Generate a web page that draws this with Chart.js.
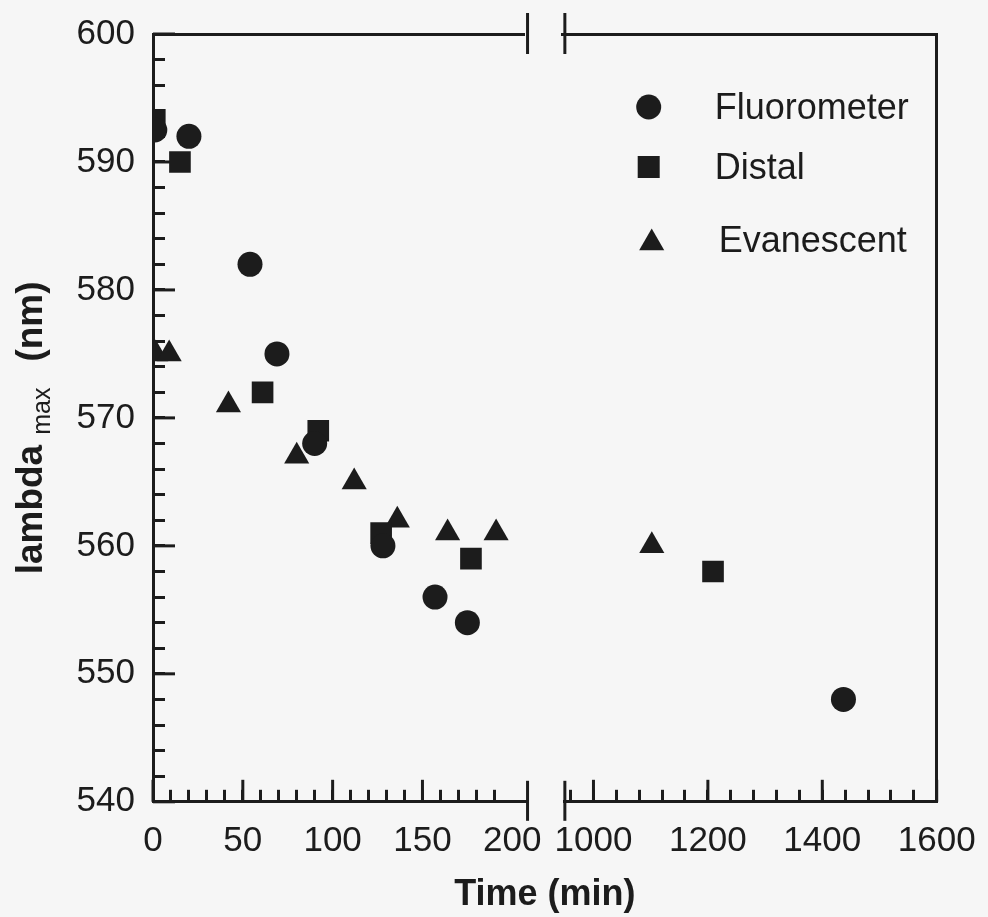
<!DOCTYPE html>
<html>
<head>
<meta charset="utf-8">
<script src="https://cdn.jsdelivr.net/npm/chart.js@4.4.0/dist/chart.umd.min.js"></script>
<style>
  html, body { margin: 0; padding: 0; background: #f6f6f6; }
  #wrap { width: 988px; height: 917px; }
</style>
</head>
<body>
<div id="wrap"><canvas id="chart" width="988" height="917"></canvas></div>
<script>
// lambda max (nm) against time (min)
const fluoroTime   = [1, 20, 54, 69, 90, 128, 157, 175, 1437];
const fluoroLambda = [592.5, 592, 582, 575, 568, 560, 556, 554, 548];
const distalTime   = [1, 15, 61, 92, 127, 177, 1209];
const distalLambda = [593.3, 590, 572, 569, 561, 559, 558];
const evanTime     = [1.5, 9, 42, 80, 112, 136, 164, 191, 1102];
const evanLambda   = [575, 575, 571, 567, 565, 562, 561, 561, 560];

const seriesNames = ['Fluorometer', 'Distal', 'Evanescent'];
const xLabelsLeft = [0, 50, 100, 150, 200];
const xLabelsRight = [1000, 1200, 1400, 1600];
const yLabels = [540, 550, 560, 570, 580, 590, 600];
const noTickAt = [200];   // label only, no tick mark (too close to the break)

const BREAK_AT = 500;     // times above this go on the right-hand segment

const ink = '#1c1c1c';
const fam = "'Liberation Sans', Arial, sans-serif";
Chart.defaults.font.family = fam;

const markers = [
  { pointStyle: 'circle', radius: 12.5 },
  { pointStyle: 'rect', radius: 15.3 },
  { pointStyle: 'triangle', radius: 14.5 }
];
const series = [[fluoroTime, fluoroLambda], [distalTime, distalLambda], [evanTime, evanLambda]];

// one dataset per series and per axis segment
const datasets = [];
series.forEach(([t, l], i) => {
  const pts = t.map((v, j) => ({ x: v, y: l[j] }));
  [['xL', p => p.x < BREAK_AT], ['xR', p => p.x >= BREAK_AT]].forEach(([axis, keep]) => {
    datasets.push({
      label: seriesNames[i],
      data: pts.filter(keep),
      xAxisID: axis,
      yAxisID: 'y',
      showLine: false,
      pointStyle: markers[i].pointStyle,
      pointRadius: markers[i].radius,
      pointHoverRadius: markers[i].radius,
      pointBackgroundColor: ink,
      pointBorderColor: ink,
      pointBorderWidth: 0
    });
  });
});

const tickFont = { family: fam, size: 35 };
const axisLine = { display: true, color: ink, width: 3 };

const tickGrid = (extra) => Object.assign({
  drawOnChartArea: false,
  drawTicks: true,
  tickLength: -12,
  tickWidth: 3,
  tickColor: ink
}, extra || {});

// labels hanging over the ends must not push the plot area in
const noOverhang = s => { s.paddingTop = 0; s.paddingBottom = 0; s.paddingLeft = 0; s.paddingRight = 0; };

const blankAxis = (pos, stack, weight, border) => ({
  type: 'linear', position: pos, stack: stack, stackWeight: weight, min: 0, max: 1,
  border: border ? axisLine : { display: false },
  grid: { display: false, drawTicks: false },
  ticks: { display: false },
  afterFit: s => {
    if (s.isHorizontal()) { s.height = pos === 'bottom' ? 60 : 0; } else { s.width = 0; }
    noOverhang(s);
  }
});

// break marks + long major ticks, drawn under the markers
const axisExtras = {
  id: 'axisExtras',
  beforeDatasetsDraw(chart) {
    const { ctx, chartArea: a, scales } = chart;
    ctx.save();
    ctx.strokeStyle = ink;
    ctx.lineWidth = 3;
    const line = (x1, y1, x2, y2) => { ctx.beginPath(); ctx.moveTo(x1, y1); ctx.lineTo(x2, y2); ctx.stroke(); };
    [scales.xL.right, scales.xR.left].forEach(x => {
      line(x, a.top - 21, x, a.top + 20);
      line(x, a.bottom - 21, x, a.bottom + 19);
    });
    yLabels.forEach(v => { const y = scales.y.getPixelForValue(v); line(a.left, y, a.left + 22, y); });
    xLabelsLeft.filter(v => !noTickAt.includes(v)).forEach(v => {
      const x = scales.xL.getPixelForValue(v); line(x, a.bottom, x, a.bottom - 22);
    });
    xLabelsRight.forEach(v => { const x = scales.xR.getPixelForValue(v); line(x, a.bottom, x, a.bottom - 22); });
    ctx.restore();
  }
};

// y title with the "max" subscript
const yTitle = {
  id: 'yTitle',
  afterDraw(chart) {
    const { ctx, chartArea: a } = chart;
    const big = `bold 37px ${fam}`, small = `25px ${fam}`;
    ctx.save();
    ctx.fillStyle = ink;
    ctx.textBaseline = 'alphabetic';
    ctx.font = big;
    const w1 = ctx.measureText('lambda').width, w3 = ctx.measureText('(nm)').width;
    ctx.font = small;
    const w2 = ctx.measureText('max').width;
    const g1 = 10, g2 = 26;
    const total = w1 + g1 + w2 + g2 + w3;
    ctx.translate(42, (a.top + a.bottom) / 2 + total / 2 + 10);
    ctx.rotate(-Math.PI / 2);
    ctx.font = big;
    ctx.fillText('lambda', 0, 0);
    ctx.font = small;
    ctx.fillText('max', w1 + g1, 8);
    ctx.font = big;
    ctx.fillText('(nm)', w1 + g1 + w2 + g2, 0);
    ctx.restore();
  }
};

// legend inside the plot, top right
const innerLegend = {
  id: 'innerLegend',
  afterDraw(chart) {
    const { ctx, chartArea: a } = chart;
    const mx = a.right - 288, tx = a.right - 222;
    const rows = [a.top + 73, a.top + 133, a.top + 206];
    ctx.save();
    ctx.fillStyle = ink;
    ctx.font = `36px ${fam}`;
    ctx.textBaseline = 'middle';
    seriesNames.forEach((name, i) => {
      const y = rows[i];
      const m = markers[i];
      ctx.beginPath();
      if (m.pointStyle === 'circle') {
        ctx.arc(mx, y, 12.5, 0, Math.PI * 2);
      } else if (m.pointStyle === 'rect') {
        ctx.rect(mx - 11, y - 11, 22, 22);
      } else {
        const r = m.radius;
        ctx.moveTo(mx + 3, y - r + 3);
        ctx.lineTo(mx + 3 + r * 0.866, y + r / 2 + 3);
        ctx.lineTo(mx + 3 - r * 0.866, y + r / 2 + 3);
        ctx.closePath();
      }
      ctx.fill();
      ctx.fillText(name, tx + (i === 2 ? 4 : 0), y + 2);
    });
    ctx.restore();
  }
};

new Chart(document.getElementById('chart'), {
  type: 'scatter',
  data: { datasets },
  plugins: [axisExtras, yTitle, innerLegend],
  options: {
    responsive: false,
    animation: false,
    events: [],
    layout: { padding: { top: 34, right: 51.3, bottom: 0, left: 0 } },
    plugins: {
      legend: { display: false },
      tooltip: { enabled: false },
      title: {
        display: true,
        text: 'Time (min)',
        position: 'bottom',
        fullSize: false,
        color: ink,
        font: { family: fam, size: 36, weight: 'bold' },
        padding: { top: 12, bottom: 0 }
      }
    },
    scales: {
      xL: {
        type: 'linear', position: 'bottom', stack: 'bottom', stackWeight: 374.4,
        min: 0, max: 208.5,
        border: axisLine,
        grid: tickGrid({ tickColor: c => (c.tick && noTickAt.includes(c.tick.value)) ? 'rgba(0,0,0,0)' : ink }),
        ticks: {
          stepSize: 10, includeBounds: false, autoSkip: false, maxRotation: 0,
          padding: 31, color: ink, font: tickFont,
          callback: v => xLabelsLeft.includes(v) ? String(v) : ''
        },
        afterFit: s => { s.height = 60; noOverhang(s); }
      },
      xGap: blankAxis('bottom', 'bottom', 37.3, false),
      xR: {
        type: 'linear', position: 'bottom', stack: 'bottom', stackWeight: 371.7,
        min: 950, max: 1600,
        border: axisLine,
        grid: tickGrid(),
        ticks: {
          stepSize: 40, includeBounds: false, autoSkip: false, maxRotation: 0,
          padding: 31, color: ink, font: tickFont,
          callback: v => xLabelsRight.includes(v) ? String(v) : ''
        },
        afterFit: s => { s.height = 60; noOverhang(s); }
      },
      tL: blankAxis('top', 'top', 374.4, true),
      tGap: blankAxis('top', 'top', 37.3, false),
      tR: blankAxis('top', 'top', 371.7, true),
      y: {
        type: 'linear', position: 'left',
        min: 540, max: 600,
        border: axisLine,
        grid: tickGrid(),
        ticks: {
          stepSize: 2, includeBounds: false, autoSkip: false,
          padding: 30, color: ink, font: tickFont,
          callback: v => yLabels.includes(v) ? String(v) : ''
        },
        afterFit: s => { s.width = 153; noOverhang(s); }
      },
      yR: blankAxis('right', undefined, 1, true)
    }
  }
});
</script>
</body>
</html>
